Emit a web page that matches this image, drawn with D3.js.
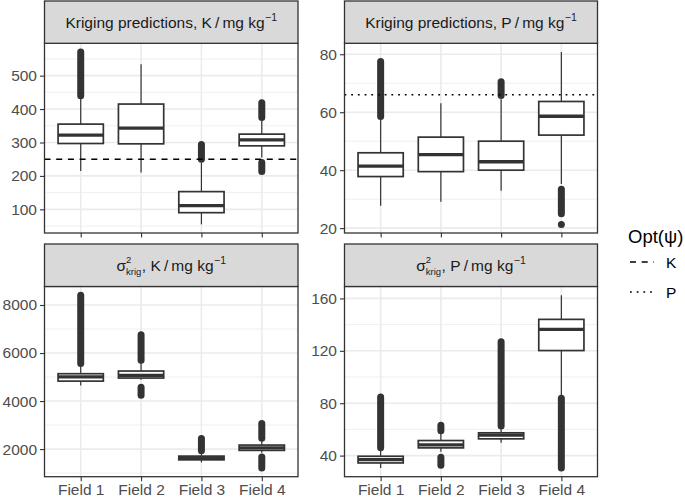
<!DOCTYPE html>
<html><head><meta charset="utf-8">
<script src="https://cdn.jsdelivr.net/npm/d3@7"></script>
<style>
html,body{margin:0;padding:0;background:#fff;}
svg text{font-family:"Liberation Sans",Arial,Helvetica,sans-serif;}
</style></head>
<body>
<svg id="chart" width="685" height="499"></svg>
<script>
// ---------------- data ----------------
const categories = ["Field 1", "Field 2", "Field 3", "Field 4"];

// Kriging predictions, K
const kPredLow    = [215, 210, 55, 255];
const kPredQ1     = [297, 296, 90, 290];
const kPredMedian = [322, 343, 111, 308];
const kPredQ3     = [355, 415, 153, 325];
const kPredHigh   = [433, 534, 240, 365];
const kPredOutliers = [[[440, 571]], [], [[250, 294]], [[375, 419], [213, 240]]];
const kPredTicks  = [100, 200, 300, 400, 500];
const kOpt = 250;

// Kriging predictions, P
const pPredLow    = [27.7, 29.1, 32.9, 35.2];
const pPredQ1     = [37.8, 39.5, 40.0, 52.1];
const pPredMedian = [41.4, 45.4, 42.9, 58.6];
const pPredQ3     = [46.0, 51.4, 50.0, 63.7];
const pPredHigh   = [57.5, 63.1, 64.5, 80.8];
const pPredOutliers = [[[58.5, 77.5]], [], [[65.8, 70.5]], [[25.0, 33.4], [21.3, 21.3]]];
const pPredTicks  = [20, 40, 60, 80];
const pOpt = 66;

// Kriging variance, K
const kVarLow    = [4650, 4890, 1443, 1850];
const kVarQ1     = [4830, 4958, 1552, 1946];
const kVarMedian = [5010, 5067, 1620, 2054];
const kVarQ3     = [5138, 5250, 1707, 2167];
const kVarHigh   = [5450, 5600, 1860, 2350];
const kVarOutliers = [[[5565, 8410]], [[5700, 6760], [4240, 4570]], [[1930, 2440]], [[2450, 3070], [1210, 1670]]];
const kVarTicks  = [2000, 4000, 6000, 8000];

// Kriging variance, P
const pVarLow    = [30.5, 43.0, 49.8, 86.0];
const pVarQ1     = [34.4, 45.9, 52.8, 120.2];
const pVarMedian = [36.9, 48.2, 55.6, 136.4];
const pVarQ3     = [39.5, 51.5, 57.4, 144.0];
const pVarHigh   = [44.5, 56.5, 61.0, 162.5];
const pVarOutliers = [[[46, 84.7]], [[58.9, 63.2], [32.7, 38.8]], [[62.7, 127]], [[30.6, 83.7]]];
const pVarTicks  = [40, 80, 120, 160];

const legendTitle = "Opt(\u03C8)";
const legendLabels = ["K", "P"];

// ---------------- layout ----------------
const svg = d3.select("#chart");
const FONT = 15.5;
const cols = [[44.5, 298], [344.5, 597.5]];
const rows = [{strip: [1, 43.3], panel: [43.3, 233]}, {strip: [244, 286.5], panel: [286.5, 476.7]}];

const panels = [
  {row: 0, col: 0, low: kPredLow, q1: kPredQ1, med: kPredMedian, q3: kPredQ3, high: kPredHigh, out: kPredOutliers, ticks: kPredTicks,
   label: [{t: "Kriging predictions, K\u2009/\u2009mg kg"}, {t: "\u22121", sup: true}], hline: kOpt, dash: "6,5.7"},
  {row: 0, col: 1, low: pPredLow, q1: pPredQ1, med: pPredMedian, q3: pPredQ3, high: pPredHigh, out: pPredOutliers, ticks: pPredTicks,
   label: [{t: "Kriging predictions, P\u2009/\u2009mg kg"}, {t: "\u22121", sup: true}], hline: pOpt, dash: "1.8,4.9"},
  {row: 1, col: 0, low: kVarLow, q1: kVarQ1, med: kVarMedian, q3: kVarQ3, high: kVarHigh, out: kVarOutliers, ticks: kVarTicks,
   label: [{t: "\u03C3"}, {sup: "2", sub: "krig"}, {t: ", K\u2009/\u2009mg kg"}, {t: "\u22121", sup: true}]},
  {row: 1, col: 1, low: pVarLow, q1: pVarQ1, med: pVarMedian, q3: pVarQ3, high: pVarHigh, out: pVarOutliers, ticks: pVarTicks,
   label: [{t: "\u03C3"}, {sup: "2", sub: "krig"}, {t: ", P\u2009/\u2009mg kg"}, {t: "\u22121", sup: true}]}
];

const DARK = "#333333";

function drawLabel(g, parts, cx, cy) {
  const lg = g.append("g");
  let x = 0;
  const base = cy + FONT * 0.36;
  parts.forEach(p => {
    if (p.sub !== undefined) {
      const s1 = lg.append("text").attr("x", x).attr("y", base - 7.8).attr("font-size", 9.5).attr("fill", "#1a1a1a").text(p.sup);
      const s2 = lg.append("text").attr("x", x).attr("y", base + 4.6).attr("font-size", 9.5).attr("fill", "#1a1a1a").text(p.sub);
      x += Math.max(s1.node().getComputedTextLength(), s2.node().getComputedTextLength()) + 0.5;
    } else if (p.sup) {
      const s = lg.append("text").attr("x", x + 0.5).attr("y", base - 6.5).attr("font-size", 10.5).attr("fill", "#1a1a1a").text(p.t);
      x += s.node().getComputedTextLength() + 0.5;
    } else {
      const s = lg.append("text").attr("x", x).attr("y", base).attr("font-size", FONT).attr("fill", "#1a1a1a").text(p.t);
      x += s.node().getComputedTextLength();
    }
  });
  lg.attr("transform", `translate(${cx - x / 2},0)`);
}

panels.forEach(p => {
  const [x0, x1] = cols[p.col];
  const [py0, py1] = rows[p.row].panel;
  const [sy0, sy1] = rows[p.row].strip;
  const g = svg.append("g");

  // domain with 5% expansion of full data range
  const allVals = [...p.low, ...p.high, ...p.out.flat(2)];
  const mn = d3.min(allVals), mx = d3.max(allVals);
  const ex = (mx - mn) * 0.05;
  const y = d3.scaleLinear().domain([mn - ex, mx + ex]).range([py1, py0]);
  const x = d3.scalePoint().domain(categories).range([x0, x1]).padding(0.6);
  const bw = x.step() * 0.75;

  g.append("rect").attr("x", x0).attr("y", py0).attr("width", x1 - x0).attr("height", py1 - py0).attr("fill", "#fff");

  // minor grid
  const step = p.ticks[1] - p.ticks[0];
  const minorVals = d3.range(p.ticks[0] - step / 2, mx + ex + step, step).filter(v => v > mn - ex && v < mx + ex);
  g.selectAll(".minor").data(minorVals).join("line")
    .attr("x1", x0).attr("x2", x1).attr("y1", d => y(d)).attr("y2", d => y(d))
    .attr("stroke", "#ebebeb").attr("stroke-width", 0.8);
  // major grid
  g.selectAll(".majy").data(p.ticks).join("line")
    .attr("x1", x0).attr("x2", x1).attr("y1", d => y(d)).attr("y2", d => y(d))
    .attr("stroke", "#ebebeb").attr("stroke-width", 1.6);
  g.selectAll(".majx").data(categories).join("line")
    .attr("x1", d => x(d)).attr("x2", d => x(d)).attr("y1", py0).attr("y2", py1)
    .attr("stroke", "#ebebeb").attr("stroke-width", 1.6);

  // boxes
  categories.forEach((c, i) => {
    const cx = x(c);
    const bg = g.append("g");
    bg.append("line").attr("x1", cx).attr("x2", cx).attr("y1", y(p.q3[i])).attr("y2", y(p.high[i])).attr("stroke", DARK).attr("stroke-width", 1.2);
    bg.append("line").attr("x1", cx).attr("x2", cx).attr("y1", y(p.q1[i])).attr("y2", y(p.low[i])).attr("stroke", DARK).attr("stroke-width", 1.2);
    bg.append("rect").attr("x", cx - bw / 2).attr("width", bw).attr("y", y(p.q3[i])).attr("height", y(p.q1[i]) - y(p.q3[i]))
      .attr("fill", "#fff").attr("stroke", DARK).attr("stroke-width", 1.7);
    bg.append("line").attr("x1", cx - bw / 2).attr("x2", cx + bw / 2).attr("y1", y(p.med[i])).attr("y2", y(p.med[i]))
      .attr("stroke", DARK).attr("stroke-width", 3.3);
    p.out[i].forEach(r => {
      bg.append("line").attr("x1", cx).attr("x2", cx).attr("y1", y(r[0])).attr("y2", y(r[1]))
        .attr("stroke", DARK).attr("stroke-width", 7).attr("stroke-linecap", "round");
    });
  });

  // reference line
  if (p.hline !== undefined) {
    g.append("line").attr("x1", x0).attr("x2", x1).attr("y1", y(p.hline)).attr("y2", y(p.hline))
      .attr("stroke", "#000").attr("stroke-width", 1.6).attr("stroke-dasharray", p.dash);
  }

  // border
  g.append("rect").attr("x", x0).attr("y", py0).attr("width", x1 - x0).attr("height", py1 - py0)
    .attr("fill", "none").attr("stroke", DARK).attr("stroke-width", 1.3);

  // y axis
  const ya = d3.axisLeft(y).tickValues(p.ticks).tickSize(4.5).tickPadding(3).tickFormat(d3.format("d"));
  const yg = g.append("g").attr("transform", `translate(${x0},0)`).call(ya);
  yg.select(".domain").remove();
  yg.selectAll(".tick line").attr("stroke", DARK).attr("stroke-width", 1.1);
  yg.selectAll(".tick text").attr("fill", "#4d4d4d").attr("font-size", FONT).attr("font-family", "Liberation Sans, Arial, sans-serif");

  // x axis
  const xa = d3.axisBottom(x).tickSize(4.5).tickPadding(2.5);
  const xg = g.append("g").attr("transform", `translate(0,${py1})`).call(xa);
  xg.select(".domain").remove();
  xg.selectAll(".tick line").attr("stroke", DARK).attr("stroke-width", 1.1);
  if (p.row === 1) {
    xg.selectAll(".tick text").attr("fill", "#4d4d4d").attr("font-size", FONT).attr("font-family", "Liberation Sans, Arial, sans-serif");
  } else {
    xg.selectAll(".tick text").remove();
  }

  // strip
  g.append("rect").attr("x", x0).attr("y", sy0).attr("width", x1 - x0).attr("height", sy1 - sy0)
    .attr("fill", "#d9d9d9").attr("stroke", DARK).attr("stroke-width", 1.3);
  drawLabel(g, p.label, (x0 + x1) / 2, (sy0 + sy1) / 2);
});

// legend
const lg = svg.append("g");
lg.append("text").attr("x", 628).attr("y", 243).attr("font-size", 18.5).attr("fill", "#000").text(legendTitle);
const dashes = ["6,5.7", "1.8,4.9"];
const legY = d3.scalePoint().domain(legendLabels).range([262, 292]);
legendLabels.forEach((l, i) => {
  lg.append("line").attr("x1", 630).attr("x2", 654).attr("y1", legY(l)).attr("y2", legY(l))
    .attr("stroke", "#000").attr("stroke-width", 1.6).attr("stroke-dasharray", dashes[i]);
  lg.append("text").attr("x", 666).attr("y", legY(l) + 5.5).attr("font-size", FONT).attr("fill", "#000").text(l);
});
</script>
</body></html>
